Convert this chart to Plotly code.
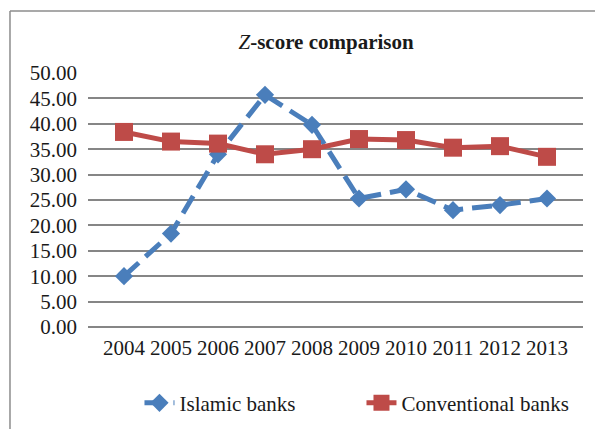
import plotly.graph_objects as go

# data
years = ["2004", "2005", "2006", "2007", "2008", "2009", "2010", "2011", "2012", "2013"]
islamic = [10.0, 18.4, 34.0, 45.7, 39.8, 25.3, 27.1, 23.0, 24.0, 25.3]
conventional = [38.4, 36.5, 36.1, 34.0, 35.0, 37.0, 36.8, 35.3, 35.6, 33.5]
y_ticks = [0, 5, 10, 15, 20, 25, 30, 35, 40, 45, 50]

serif = "Liberation Serif"

fig = go.Figure()

fig.add_trace(go.Scatter(
    x=years, y=islamic, name="Islamic banks", mode="lines+markers",
    line=dict(color="#4A7EBB", width=5, dash="20px,9px"),
    marker=dict(symbol="diamond", size=14, color="#4A7EBB"),
))
fig.add_trace(go.Scatter(
    x=years, y=conventional, name="Conventional banks", mode="lines+markers",
    line=dict(color="#BE4B48", width=5),
    marker=dict(symbol="square", size=18, color="#BE4B48"),
))

fig.update_layout(
    width=595, height=429,
    margin=dict(l=88, r=12, t=73, b=102, autoexpand=False),
    paper_bgcolor="white", plot_bgcolor="white",
    font=dict(family=serif, size=21, color="#1a1a1a"),
    # title is centred on the whole (cropped) chart frame, not the plot area
    title=dict(text="<i>Z</i><b>-score comparison</b>", x=0.548, xanchor="center",
               y=0.902, yanchor="middle", font=dict(family=serif, size=21, color="#1a1a1a")),
    showlegend=True,
    legend=dict(orientation="h", x=0.104, xanchor="left", y=-0.30, yanchor="middle",
                font=dict(family=serif, size=21), entrywidth=177, entrywidthmode="pixels",
                bgcolor="rgba(0,0,0,0)"),
)

fig.update_xaxes(
    type="category", showgrid=False, showline=False, zeroline=False,
    ticks="", ticklabelstandoff=6, automargin=False,
)
fig.update_yaxes(
    range=[0, 50], tickvals=y_ticks, tickformat=".2f",
    showgrid=True, gridcolor="#868686", gridwidth=2,
    zeroline=True, zerolinecolor="#868686", zerolinewidth=2,
    showline=False, ticks="", ticklabelstandoff=10, automargin=False,
)

# outer chart frame: only its left and top edges fall inside the picture
frame = dict(color="#8c8c8c", width=1.5)
fig.add_shape(type="line", xref="paper", yref="paper",
              x0=-0.1576, x1=-0.1576, y0=-0.45, y1=1.244, line=frame, layer="below")
fig.add_shape(type="line", xref="paper", yref="paper",
              x0=-0.1576, x1=1.05, y0=1.244, y1=1.244, line=frame, layer="below")

# drop the default 8px page margin so the figure sits at the window corner
fig.write_html("out.html", config={"displayModeBar": False},
               post_script="document.body.style.margin='0';")
